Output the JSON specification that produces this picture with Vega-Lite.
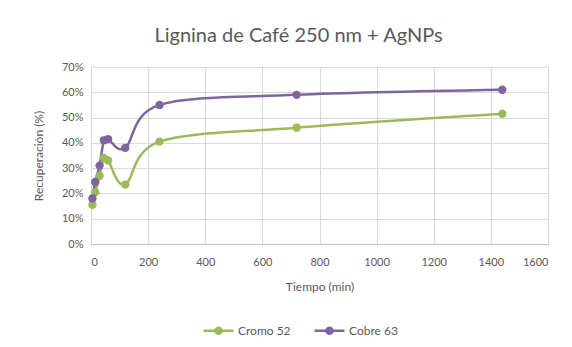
{
  "$schema": "https://vega.github.io/schema/vega-lite/v6.json",
  "width": 457,
  "height": 177,
  "autosize": {"type": "none"},
  "padding": {"left": 91, "top": 67, "right": 24, "bottom": 103},
  "background": "white",
  "config": {
    "font": "Lato",
    "view": {"stroke": null},
    "axis": {"labelColor": "#595959", "titleColor": "#595959", "labelFontSize": 11, "titleFontSize": 12, "titleFontWeight": "normal", "gridColor": "#D9D9D9", "tickSize": 0, "labelPadding": 8}
  },
  "title": {"text": "Lignina de Café 250 nm + AgNPs", "fontSize": 20, "fontWeight": "normal", "color": "#595959", "offset": 15, "anchor": "middle", "dx": -21},
  "data": {"values": [
    {"t": 5, "r": 0.155, "serie": "Cromo 52"},
    {"t": 15, "r": 0.205, "serie": "Cromo 52"},
    {"t": 30, "r": 0.27, "serie": "Cromo 52"},
    {"t": 45, "r": 0.34, "serie": "Cromo 52"},
    {"t": 60, "r": 0.33, "serie": "Cromo 52"},
    {"t": 120, "r": 0.235, "serie": "Cromo 52"},
    {"t": 240, "r": 0.405, "serie": "Cromo 52"},
    {"t": 720, "r": 0.46, "serie": "Cromo 52"},
    {"t": 1440, "r": 0.515, "serie": "Cromo 52"},
    {"t": 5, "r": 0.18, "serie": "Cobre 63"},
    {"t": 15, "r": 0.245, "serie": "Cobre 63"},
    {"t": 30, "r": 0.31, "serie": "Cobre 63"},
    {"t": 45, "r": 0.41, "serie": "Cobre 63"},
    {"t": 60, "r": 0.415, "serie": "Cobre 63"},
    {"t": 120, "r": 0.38, "serie": "Cobre 63"},
    {"t": 240, "r": 0.55, "serie": "Cobre 63"},
    {"t": 720, "r": 0.59, "serie": "Cobre 63"},
    {"t": 1440, "r": 0.61, "serie": "Cobre 63"}
  ]},
  "encoding": {
    "x": {"field": "t", "type": "quantitative", "title": "Tiempo (min)", "scale": {"domain": [0, 1600], "nice": false}, "axis": {"values": [0,200,400,600,800,1000,1200,1400,1600], "format": "d", "grid": true, "domain": true, "domainColor": "#BFBFBF", "labelPadding": 12, "titlePadding": 14}},
    "y": {"field": "r", "type": "quantitative", "title": "Recuperación (%)", "scale": {"domain": [0, 0.7], "nice": false}, "axis": {"format": ".0%", "values": [0,0.1,0.2,0.3,0.4,0.5,0.6,0.7], "domain": false, "titlePadding": 16}},
    "color": {"field": "serie", "type": "nominal", "title": null, "scale": {"domain": ["Cromo 52", "Cobre 63"], "range": ["#9BBB59", "#8064A2"]},
      "legend": {"orient": "none", "legendX": 111, "legendY": 247, "direction": "horizontal", "symbolType": "M-1,0L1,0M-0.2,0A0.2,0.2 0 1,0 0.2,0A0.2,0.2 0 1,0 -0.2,0", "symbolSize": 900, "symbolStrokeWidth": 2.5, "labelFontSize": 12, "labelColor": "#595959", "columnPadding": 18, "symbolOffset": 0, "labelOffset": 3}}
  },
  "layer": [
    {"mark": {"type": "line", "interpolate": "cardinal", "tension": 0, "strokeWidth": 2.5}},
    {"mark": {"type": "point", "filled": true, "size": 70, "opacity": 1}}
  ]
}
